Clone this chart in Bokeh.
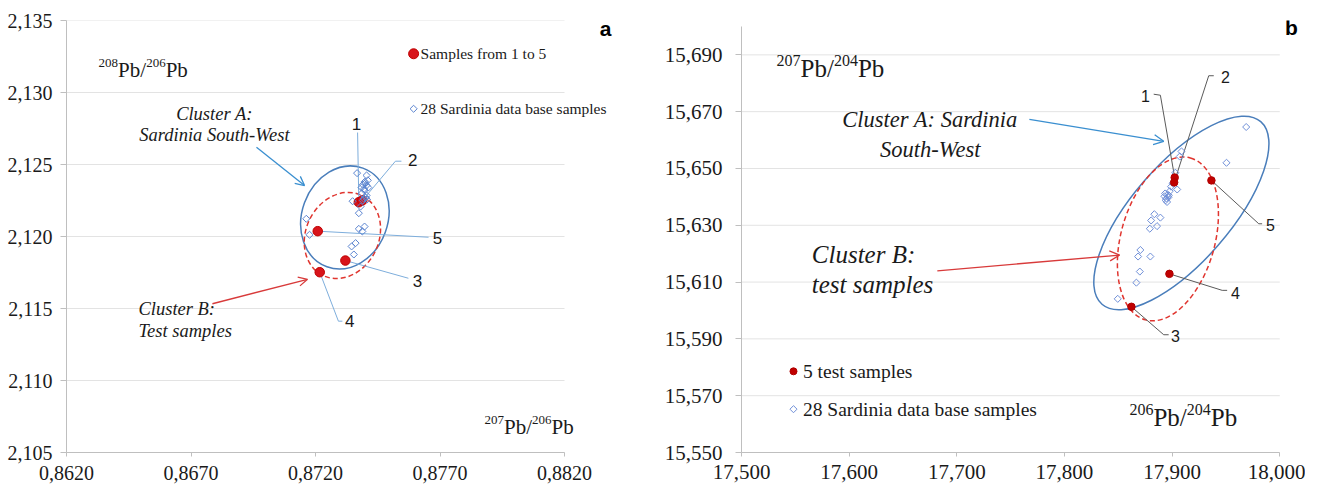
import numpy as np
from bokeh.plotting import figure
from bokeh.layouts import row
from bokeh.models import FixedTicker, CustomJSTickFormatter, Arrow, OpenHead, Range1d
from bokeh.core.properties import value
from bokeh.embed import file_html
from bokeh.resources import INLINE

SERIF = "Liberation Serif"
SANS = "Liberation Sans"

# ---------------- data : panel a (208Pb/206Pb vs 207Pb/206Pb) ----------------
a_ids = ["1", "2", "3", "4", "5"]
a_test_x = [0.87374, 0.87388, 0.87320, 0.87217, 0.87209]
a_test_y = [2.12238, 2.12250, 2.11833, 2.11752, 2.12037]
a_db_x = [0.87367, 0.87405, 0.87410, 0.87390, 0.87405, 0.87385, 0.87397,
          0.87386, 0.87405, 0.87394, 0.87407, 0.87349, 0.87381, 0.87374,
          0.87163, 0.87374, 0.87397, 0.87388, 0.87176, 0.87345, 0.87361,
          0.87354, 0.87400, 0.87395, 0.87402, 0.87390, 0.87412, 0.87398]
a_db_y = [2.12440, 2.12424, 2.12390, 2.12360, 2.12355, 2.12340, 2.12320,
          2.12300, 2.12285, 2.12262, 2.12257, 2.12245, 2.12208, 2.12162,
          2.12123, 2.12053, 2.12069, 2.12035, 2.12012, 2.11931, 2.11954,
          2.11875, 2.12370, 2.12330, 2.12270, 2.12250, 2.12340, 2.12380]
a_xticks = [0.862, 0.867, 0.872, 0.877, 0.882]
a_yticks = [2.105, 2.110, 2.115, 2.120, 2.125, 2.130, 2.135]
a_legend_labels = ["Samples from 1 to 5", "28 Sardinia data base samples"]

# ---------------- data : panel b (207Pb/204Pb vs 206Pb/204Pb) ----------------
b_ids = ["1", "2", "3", "4", "5"]
b_test_x = [17.9024, 17.9019, 17.8622, 17.8975, 17.9365]
b_test_y = [15.6468, 15.6451, 15.6013, 15.6129, 15.6458]
b_db_x = [17.9688, 17.9505, 17.9087, 17.9071, 17.9047, 17.8978, 17.8959,
          17.8929, 17.8947, 17.8953, 17.8835, 17.8891, 17.8805, 17.8860,
          17.8793, 17.8705, 17.8684, 17.8798, 17.8700, 17.8668, 17.8495,
          17.8970, 17.8940, 17.8965, 17.8990, 17.9005, 17.9030, 17.8935]
b_db_y = [15.6646, 15.6520, 15.6560, 15.6542, 15.6426, 15.6420, 15.6408,
          15.6402, 15.6394, 15.6382, 15.6339, 15.6327, 15.6317, 15.6297,
          15.6288, 15.6213, 15.6190, 15.6190, 15.6137, 15.6098, 15.6041,
          15.6405, 15.6388, 15.6398, 15.6436, 15.6448, 15.6485, 15.6412]
b_xticks = [17.5, 17.6, 17.7, 17.8, 17.9, 18.0]
b_yticks = [15.55, 15.57, 15.59, 15.61, 15.63, 15.65, 15.67, 15.69]
b_legend_labels = ["5 test samples", "28 Sardinia data base samples"]

# ---------------- annotation layout (label anchors / elbows) ----------------
a_lbl_x = [0.87365, 0.87590, 0.87610, 0.87337, 0.87690]
a_lbl_y = [2.12783, 2.12533, 2.11694, 2.11410, 2.11991]
a_elbows = [[(0.87369, 2.12722)],
            [(0.87521, 2.12523), (0.87545, 2.12523)],
            [(0.87573, 2.11710)],
            [(0.87292, 2.11412), (0.87308, 2.11412)],
            [(0.87654, 2.11995)]]
b_lbl_x = [17.8752, 17.9495, 17.9031, 17.9588, 17.9914]
b_lbl_y = [15.67554, 15.68204, 15.59089, 15.60627, 15.62996]
b_elbows = [[(17.8891, 15.67579), (17.8829, 15.67615)],
            [(17.9340, 15.68265), (17.9387, 15.68265)],
            [(17.8922, 15.59146), (17.8968, 15.59146)],
            [(17.9465, 15.60709), (17.9511, 15.60709)],
            [(17.9805, 15.63053), (17.9836, 15.63053)]]

AXIS_GRAY = "#bfbfbf"
GRID_GRAY = "#e3e3e3"
TXT = "#1a1a1a"
ELL_BLUE = "#4a7ebb"
ELL_RED = "#e0352f"
ARR_BLUE = "#3a8fd0"
ARR_RED = "#d83a3a"

# Times-like advance widths (em) used to lay out superscript labels
ADV = {"P": 0.556, "b": 0.5, "/": 0.278}


def adv(s, px):
    return sum(ADV.get(c, 0.5) for c in s) * px


def make_fig(xr, yr, w, bl):
    p = figure(x_range=Range1d(*xr), y_range=Range1d(*yr),
               width=w, height=491,
               min_border_left=bl, min_border_right=0,
               min_border_top=20, min_border_bottom=39,
               toolbar_location=None, output_backend="svg", title=None)
    p.outline_line_color = None
    p.background_fill_color = "white"
    p.border_fill_color = "white"
    p.xgrid.grid_line_color = None
    p.ygrid.grid_line_color = None
    return p


def style_axes(p, xticks, yticks, xdec, ydec, fsize, xso, yso, xto, yto):
    p.xaxis.ticker = FixedTicker(ticks=xticks)
    p.yaxis.ticker = FixedTicker(ticks=yticks)
    p.xaxis.bounds = (xticks[0], xticks[-1])
    p.xaxis.formatter = CustomJSTickFormatter(
        code="return tick.toFixed(%d).replace('.', ',');" % xdec)
    p.yaxis.formatter = CustomJSTickFormatter(
        code="return tick.toFixed(%d).replace('.', ',');" % ydec)
    for ax, so, to in ((p.xaxis[0], xso, xto), (p.yaxis[0], yso, yto)):
        ax.axis_line_color = AXIS_GRAY
        ax.axis_line_width = 1
        ax.major_tick_line_color = AXIS_GRAY
        ax.major_tick_in = 0
        ax.major_tick_out = to
        ax.minor_tick_line_color = None
        ax.major_label_text_font = SERIF
        ax.major_label_text_font_size = fsize
        ax.major_label_text_color = TXT
        ax.major_label_standoff = so
    # horizontal gridlines limited to the axis extent
    n = len(yticks)
    p.segment(x0=[xticks[0]] * n, y0=yticks, x1=[xticks[-1]] * n, y1=yticks,
              line_color=GRID_GRAY, line_width=1)


def iso_label(p, x, y, sup1, sup2, main_px, sup_px, raise_px):
    parts = [(sup1, True), ("Pb/", False), (sup2, True), ("Pb", False)]
    offs, xo = [], 0.0
    for s, is_sup in parts:
        offs.append(xo)
        xo += adv(s, sup_px if is_sup else main_px)
    p.text(x=[x] * 4, y=[y] * 4, text=[s for s, _ in parts],
           x_offset=offs, y_offset=[-raise_px if s else 0 for _, s in parts],
           text_font_size=["%dpx" % (sup_px if s else main_px) for _, s in parts],
           text_align="left", text_baseline="alphabetic",
           text_font=value(SERIF), text_color=TXT)


# ================================ panel a ================================
pa = make_fig((0.862, 0.88457), (2.105, 2.135), 628, 66)
style_axes(pa, a_xticks, a_yticks, 4, 3, "20px", 9, 8, 4, 6)

pa.ellipse(x=[0.87318], y=[2.12132], width=[105], height=[86], angle=[np.radians(70)],
           width_units="screen", height_units="screen",
           fill_color=None, line_color=ELL_BLUE, line_width=1.5)
pa.ellipse(x=[0.87308], y=[2.12007], width=[89], height=[73], angle=[np.radians(64)],
           width_units="screen", height_units="screen",
           fill_color=None, line_color=ELL_RED, line_width=1.5, line_dash="5 3")

a_xs = [[a_test_x[i]] + [e[0] for e in a_elbows[i]] for i in range(5)]
a_ys = [[a_test_y[i]] + [e[1] for e in a_elbows[i]] for i in range(5)]
pa.multi_line(a_xs, a_ys, line_color="#7eaedc", line_width=1)

pa.scatter(a_test_x, a_test_y, marker="circle", size=9.5,
           fill_color="#d8141b", line_color="#c00000")
pa.scatter(a_db_x, a_db_y, marker="square", size=5, angle=np.pi / 4,
           fill_color=None, line_color="#5b84d0", line_width=1)

pa.text(a_lbl_x, a_lbl_y, text=a_ids, text_align="center", text_baseline="middle",
        text_font=value(SANS), text_font_size="17px", text_color=TXT)

pa.text([0.86794, 0.86794], [2.12852, 2.12706], text=["Cluster A:", "Sardinia South-West"],
        text_align="center", text_baseline="middle", text_font=value(SERIF),
        text_font_style="italic", text_font_size="18.5px", text_color=TXT)
pa.text([0.86489, 0.86489], [2.11500, 2.11347], text=["Cluster B:", "Test samples"],
        text_align="left", text_baseline="middle", text_font=value(SERIF),
        text_font_style="italic", text_font_size="18.5px", text_color=TXT)
iso_label(pa, 0.86329, 2.13153, "208", "206", 21, 13, 7)
iso_label(pa, 0.87879, 2.10674, "207", "206", 21, 13, 7)

pa.add_layout(Arrow(x_start=0.86963, y_start=2.12620, x_end=0.87156, y_end=2.12354,
                    line_color=ARR_BLUE, line_width=1.3,
                    end=OpenHead(size=9, line_color=ARR_BLUE, line_width=1.3)))
pa.add_layout(Arrow(x_start=0.86786, y_start=2.11533, x_end=0.87168, y_end=2.11703,
                    line_color=ARR_RED, line_width=1.3,
                    end=OpenHead(size=9, line_color=ARR_RED, line_width=1.3)))

# legend (key markers + labels)
a_leg_x, a_leg_y = 0.87594, [2.13269, 2.12887]
pa.scatter([a_leg_x], [a_leg_y[0]], marker="circle", size=10,
           fill_color="#d8141b", line_color="#c00000")
pa.scatter([a_leg_x], [a_leg_y[1]], marker="square", size=5, angle=np.pi / 4,
           fill_color=None, line_color="#5b84d0", line_width=1)
pa.text([0.87622] * 2, a_leg_y, text=a_legend_labels, text_align="left",
        text_baseline="middle", text_font=value(SERIF), text_font_size="15.5px",
        text_color=TXT)
pa.text([0.88365], [2.13444], text=["a"], text_align="center", text_baseline="middle",
        text_font=value(SANS), text_font_style="bold", text_font_size="21px",
        text_color="black")

# ================================ panel b ================================
pb = make_fig((17.5, 18.0239), (15.55, 15.7021), 677, 113)
style_axes(pb, b_xticks, b_yticks, 3, 3, "21px", 8, 13, 4, 6)
pb.yaxis.bounds = (15.55, 15.70)

pb.ellipse(x=[17.9086], y=[15.63434], width=[242], height=[98], angle=[np.radians(49)],
           width_units="screen", height_units="screen",
           fill_color=None, line_color=ELL_BLUE, line_width=1.5)
pb.ellipse(x=[17.8961], y=[15.62520], width=[168], height=[94], angle=[np.radians(74.5)],
           width_units="screen", height_units="screen",
           fill_color=None, line_color=ELL_RED, line_width=1.5, line_dash="5 3")

b_xs = [[b_test_x[i]] + [e[0] for e in b_elbows[i]] for i in range(5)]
b_ys = [[b_test_y[i]] + [e[1] for e in b_elbows[i]] for i in range(5)]
pb.multi_line(b_xs, b_ys, line_color="#5a5a5a", line_width=1)

pb.scatter(b_db_x, b_db_y, marker="square", size=5, angle=np.pi / 4,
           fill_color=None, line_color="#6f8fd8", line_width=1)
pb.scatter(b_test_x, b_test_y, marker="circle", size=7.5,
           fill_color="#c00000", line_color="#b00000")

pb.text(b_lbl_x, b_lbl_y, text=b_ids, text_align="center", text_baseline="middle",
        text_font=value(SANS), text_font_size="16px", text_color=TXT)

pb.text([17.6751, 17.6754], [15.66726, 15.65661], text=["Cluster A: Sardinia", "South-West"],
        text_align="center", text_baseline="middle", text_font=value(SERIF),
        text_font_style="italic", text_font_size="22.5px", text_color=TXT)
pb.text([17.5653, 17.5653], [15.61988, 15.60922], text=["Cluster B:", "test samples"],
        text_align="left", text_baseline="middle", text_font=value(SERIF),
        text_font_style="italic", text_font_size="25px", text_color=TXT)
iso_label(pb, 17.5326, 15.68503, "207", "204", 25, 16, 8)
iso_label(pb, 17.8603, 15.56247, "206", "204", 25, 16, 8)

pb.add_layout(Arrow(x_start=17.7674, y_start=15.66726, x_end=17.8922, y_end=15.65956,
                    line_color=ARR_BLUE, line_width=1.3,
                    end=OpenHead(size=10, line_color=ARR_BLUE, line_width=1.3)))
pb.add_layout(Arrow(x_start=17.6819, y_start=15.61398, x_end=17.8513, y_end=15.61952,
                    line_color=ARR_RED, line_width=1.3,
                    end=OpenHead(size=10, line_color=ARR_RED, line_width=1.3)))

b_leg_x, b_leg_y = 17.5483, [15.57858, 15.56525]
pb.scatter([b_leg_x], [b_leg_y[0]], marker="circle", size=7,
           fill_color="#c00000", line_color="#b00000")
pb.scatter([b_leg_x], [b_leg_y[1]], marker="square", size=5, angle=np.pi / 4,
           fill_color=None, line_color="#6f8fd8", line_width=1)
pb.text([17.5571] * 2, b_leg_y, text=b_legend_labels, text_align="left",
        text_baseline="middle", text_font=value(SERIF), text_font_size="19.5px",
        text_color=TXT)
pb.text([18.0109], [15.69970], text=["b"], text_align="center", text_baseline="middle",
        text_font=value(SANS), text_font_style="bold", text_font_size="21px",
        text_color="black")

layout = row(pa, pb)
open("out.html", "w").write(file_html(layout, INLINE))
